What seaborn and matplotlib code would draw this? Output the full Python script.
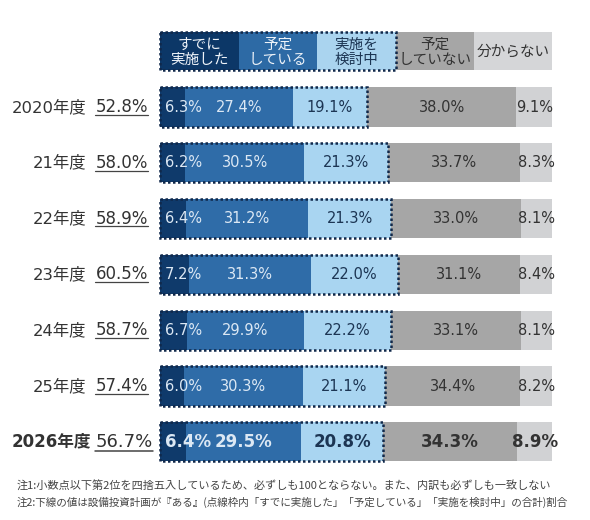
import matplotlib
matplotlib.use("Agg")
import matplotlib.pyplot as plt
import seaborn as sns
import pandas as pd
from matplotlib.patches import Rectangle

# ---- data ----
years = ["2020年度", "21年度", "22年度", "23年度", "24年度", "25年度", "2026年度"]
total_labels = ["52.8%", "58.0%", "58.9%", "60.5%", "58.7%", "57.4%", "56.7%"]
done = [6.3, 6.2, 6.4, 7.2, 6.7, 6.0, 6.4]
planned = [27.4, 30.5, 31.2, 31.3, 29.9, 30.3, 29.5]
considering = [19.1, 21.3, 21.3, 22.0, 22.2, 21.1, 20.8]
not_planned = [38.0, 33.7, 33.0, 31.1, 33.1, 34.4, 34.3]
unknown = [9.1, 8.3, 8.1, 8.4, 8.1, 8.2, 8.9]
series_names = ["すでに\n実施した", "予定\nしている", "実施を\n検討中", "予定\nしていない", "分からない"]
notes = [
    "注1:小数点以下第2位を四捨五入しているため、必ずしも100とならない。また、内訳も必ずしも一致しない",
    "注2:下線の値は設備投資計画が『ある』(点線枠内「すでに実施した」「予定している」「実施を検討中」の合計)割合",
]

series = [done, planned, considering, not_planned, unknown]
bar_colors = ["#0f3a6b", "#2f6ca8", "#a9d5f1", "#a6a6a6", "#d1d2d4"]
head_colors = ["#0c3767", "#2d6aa5", "#aad4ef", "#a6a6a6", "#d5d6d8"]
text_colors = ["#dce8f4", "#dce8f4", "#1c3553", "#333333", "#333333"]
head_text_colors = ["#eef3f9", "#eef3f9", "#1c3553", "#333333", "#333333"]

sns.set_theme(style="white")
plt.rcParams["font.family"] = ["DejaVu Sans", "Noto Sans CJK JP"]
CJK = ["Noto Sans CJK JP", "DejaVu Sans"]

df = pd.DataFrame({"year": years})
cum = [0.0] * len(years)
cum_cols = []
starts = []
for i, s in enumerate(series):
    starts.append(list(cum))
    cum = [c + v for c, v in zip(cum, s)]
    df[f"c{i}"] = cum
    cum_cols.append(f"c{i}")

fig = plt.figure(figsize=(5.9, 5.2), dpi=100)
ax = fig.add_axes([0, 0, 1, 1])

BW = 0.7
for i in reversed(range(len(series))):
    sns.barplot(data=df, x=cum_cols[i], y="year", orient="h", color=bar_colors[i],
                saturation=1, width=BW, linewidth=0, ax=ax)

ax.set_xlim(-40.94, 109.57)
ax.set_ylim(7.401, -1.918)
ax.axis("off")

dot_color = "#10284a"

# value labels
for r in range(len(years)):
    last = r == len(years) - 1
    fs = 12 if last else 10.5
    fw = "bold" if last else "normal"
    for i, s in enumerate(series):
        v = s[r]
        if i == 0:
            ax.text(starts[i][r] + 1.2, r, f"{v:.1f}%", ha="left", va="center",
                    fontsize=fs, fontweight=fw, color=text_colors[i])
        else:
            ax.text(starts[i][r] + v / 2, r, f"{v:.1f}%", ha="center", va="center",
                    fontsize=fs, fontweight=fw, color=text_colors[i])
    # dotted box around first three
    w3 = done[r] + planned[r] + considering[r]
    ax.add_patch(Rectangle((0, r - BW / 2), w3, BW, fill=False, edgecolor=dot_color,
                           linestyle=(0, (1, 1)), linewidth=1.8, zorder=5))

# header boxes
hy0, hy1 = -1.349, -0.663
for i, name in enumerate(series_names):
    ax.add_patch(Rectangle((i * 20, hy0), 20, hy1 - hy0, facecolor=head_colors[i],
                           edgecolor="none", zorder=3))
    ax.text(i * 20 + 10, (hy0 + hy1) / 2 + 0.02, name, ha="center", va="center",
            fontsize=10.5, family=CJK, color=head_text_colors[i], linespacing=1.1, zorder=4)
ax.add_patch(Rectangle((0, hy0), 60, hy1 - hy0, fill=False, edgecolor=dot_color,
                       linestyle=(0, (1, 1)), linewidth=1.8, zorder=5))

# row labels
tot_texts = []
for r, (y, t) in enumerate(zip(years, total_labels)):
    last = r == len(years) - 1
    ax.text(-18.9 if not last else -17.6, r, y, ha="right", va="center",
            fontsize=12 if last else 11.8, fontweight="bold" if last else "normal",
            color="#333333")
    tt = ax.text(-16.6, r, t, ha="left", va="center", fontsize=13 if last else 12,
                 color="#333333")
    tot_texts.append((tt, r, last))

fig.canvas.draw()
renderer = fig.canvas.get_renderer()
inv = ax.transData.inverted()
for tt, r, last in tot_texts:
    bb = tt.get_window_extent(renderer).transformed(inv)
    yy = r + (0.17 if last else 0.14)
    ax.plot([bb.x0, bb.x1], [yy, yy], color="#444444", linewidth=1.1 if last else 0.9)

# notes
for k, (n, fsz) in enumerate(zip(notes, [8.0, 7.6])):
    ax.text(-36.6, 6.774 + k * 0.305, n, ha="left", va="center", fontsize=fsz,
            family=CJK, color="#444444")

fig.savefig("out.png", dpi=100)
